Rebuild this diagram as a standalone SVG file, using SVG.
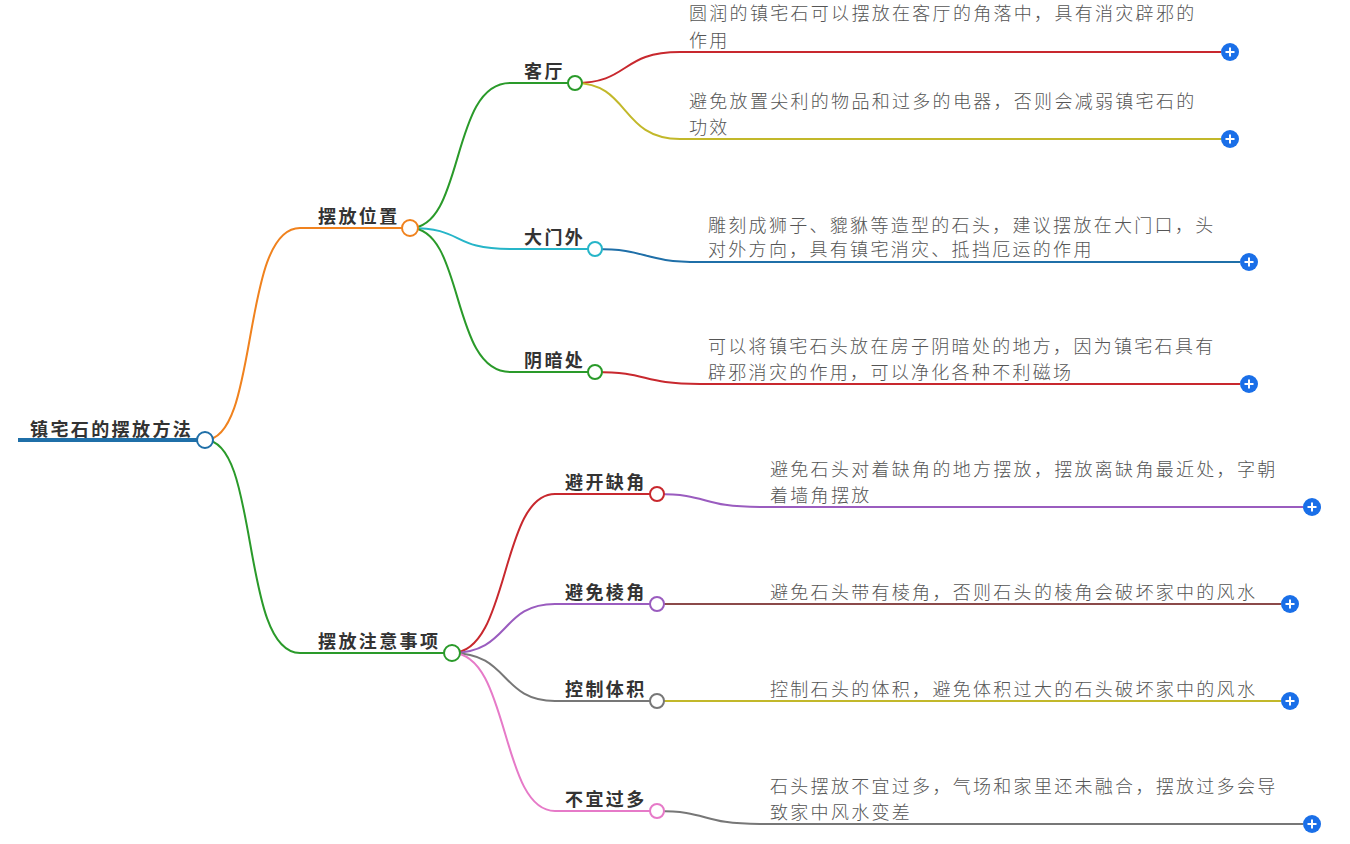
<svg xmlns="http://www.w3.org/2000/svg" width="1350" height="844" viewBox="0 0 1350 844">
<style>
.t{font-family:"Noto Sans CJK SC","Liberation Sans",sans-serif}
.b{font-size:18px;font-weight:bold;fill:#333;letter-spacing:2.4px}
.l{font-size:18px;fill:#555;letter-spacing:2.3px;font-weight:300}
.c path{fill:none;stroke-width:2}
.n{fill:#fff;stroke-width:2}
</style>
<defs>
<g id="plus"><circle r="9" fill="#1a6fe8"/><path d="M-4.5 0H4.5M0 -4.5V4.5" stroke="#fff" stroke-width="2"/></g>
</defs>
<g class="c" id="connectors">
<path d="M18 440H205" stroke="#1f6fa8" style="stroke-width:4"/>
<path d="M205 440C260 440 240 228 300 228H410" stroke="#f0821e"/>
<path d="M205 440C260 440 240 653 300 653H452" stroke="#2a9a2a"/>
<path d="M410 228C465 228 450 83 510 83H575" stroke="#2a9a2a"/>
<path d="M410 228C465 228 450 249 510 249H595" stroke="#26b5c8"/>
<path d="M410 228C465 228 450 372 510 372H595" stroke="#2a9a2a"/>
<path d="M452 653C510 653 500 494 555 494H657" stroke="#c8282e"/>
<path d="M452 653C510 653 500 604 555 604H657" stroke="#9a5cbf"/>
<path d="M452 653C510 653 500 701 555 701H657" stroke="#777"/>
<path d="M452 653C510 653 500 811 555 811H657" stroke="#e67ac8"/>
<path d="M575 83C630 83 620 52 680 52H1221" stroke="#c8282e"/>
<path d="M575 83C630 83 620 139 680 139H1221" stroke="#c2b82a"/>
<path d="M595 249C650 249 640 262 700 262H1240" stroke="#1f6fa8"/>
<path d="M595 372C650 372 640 384 700 384H1240" stroke="#c8282e"/>
<path d="M657 494C710 494 700 507 760 507H1303" stroke="#9a5cbf"/>
<path d="M657 604H1281" stroke="#8b4a4a"/>
<path d="M657 701H1281" stroke="#c2b82a"/>
<path d="M657 811C710 811 700 824 760 824H1303" stroke="#777"/>
</g>
<g id="root"><text class="t b" x="30" y="436">镇宅石的摆放方法</text><circle class="n" cx="205" cy="440" r="8" stroke="#1f6fa8"/></g>
<g id="n1"><text class="t b" x="318" y="223">摆放位置</text><circle class="n" cx="410" cy="228" r="8" stroke="#f0821e"/></g>
<g id="n2"><text class="t b" x="318" y="648">摆放注意事项</text><circle class="n" cx="452" cy="653" r="8" stroke="#2a9a2a"/></g>
<g id="n11"><text class="t b" x="524" y="78">客厅</text><circle class="n" cx="575" cy="83" r="7" stroke="#2a9a2a"/></g>
<g id="n12"><text class="t b" x="524" y="244">大门外</text><circle class="n" cx="595" cy="249" r="7" stroke="#26b5c8"/></g>
<g id="n13"><text class="t b" x="524" y="367">阴暗处</text><circle class="n" cx="595" cy="372" r="7" stroke="#2a9a2a"/></g>
<g id="n21"><text class="t b" x="565" y="489">避开缺角</text><circle class="n" cx="657" cy="494" r="7" stroke="#c8282e"/></g>
<g id="n22"><text class="t b" x="565" y="599">避免棱角</text><circle class="n" cx="657" cy="604" r="7" stroke="#9a5cbf"/></g>
<g id="n23"><text class="t b" x="565" y="696">控制体积</text><circle class="n" cx="657" cy="701" r="7" stroke="#777"/></g>
<g id="n24"><text class="t b" x="565" y="806">不宜过多</text><circle class="n" cx="657" cy="811" r="7" stroke="#e67ac8"/></g>
<g id="l1"><text class="t l" x="689" y="20">圆润的镇宅石可以摆放在客厅的角落中，具有消灾辟邪的</text><text class="t l" x="689" y="47">作用</text><use href="#plus" x="1230" y="52"/></g>
<g id="l2"><text class="t l" x="689" y="108">避免放置尖利的物品和过多的电器，否则会减弱镇宅石的</text><text class="t l" x="689" y="134">功效</text><use href="#plus" x="1230" y="139"/></g>
<g id="l3"><text class="t l" x="708" y="232">雕刻成狮子、貔貅等造型的石头，建议摆放在大门口，头</text><text class="t l" x="708" y="256">对外方向，具有镇宅消灾、抵挡厄运的作用</text><use href="#plus" x="1249" y="262"/></g>
<g id="l4"><text class="t l" x="708" y="353">可以将镇宅石头放在房子阴暗处的地方，因为镇宅石具有</text><text class="t l" x="708" y="379">辟邪消灾的作用，可以净化各种不利磁场</text><use href="#plus" x="1249" y="384"/></g>
<g id="l5"><text class="t l" x="770" y="476">避免石头对着缺角的地方摆放，摆放离缺角最近处，字朝</text><text class="t l" x="770" y="502">着墙角摆放</text><use href="#plus" x="1312" y="507"/></g>
<g id="l6"><text class="t l" x="770" y="599">避免石头带有棱角，否则石头的棱角会破坏家中的风水</text><use href="#plus" x="1290" y="604"/></g>
<g id="l7"><text class="t l" x="770" y="696">控制石头的体积，避免体积过大的石头破坏家中的风水</text><use href="#plus" x="1290" y="701"/></g>
<g id="l8"><text class="t l" x="770" y="793">石头摆放不宜过多，气场和家里还未融合，摆放过多会导</text><text class="t l" x="770" y="819">致家中风水变差</text><use href="#plus" x="1312" y="824"/></g>
</svg>
